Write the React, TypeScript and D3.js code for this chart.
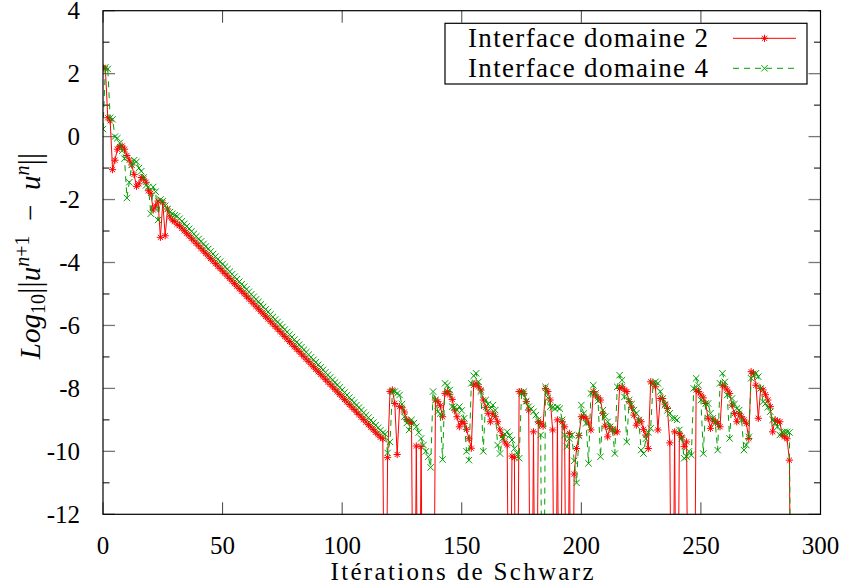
import React from 'react';
import * as d3 from 'd3';

const xTicks = [0, 50, 100, 150, 200, 250, 300];
const yTicks = [-12, -10, -8, -6, -4, -2, 0, 2, 4];
const yMinorTicks = [-11, -9, -7, -5, -3, -1, 1, 3];
const seriesNames = ['Interface domaine 2', 'Interface domaine 4'];
const xTitle = 'Itérations de Schwarz';

// Log10 ||u^{n+1}-u^n|| per Schwarz iteration (index = iteration), interface 2
const redValues = [
  2.2, 2.15, 0.6, 0.5, -1.05, -0.75, -0.4, -0.32, -0.3, -0.4,
  -0.6, -0.75, -0.9, -1.2, -1.58, -1.5, -1.3, -1.35, -1.45, -1.72,
  -1.8, -2.33, -2.2, -2.05, -3.2, -2.1, -3.15, -2.3, -2.55, -2.65,
  -2.7, -2.78, -2.83, -2.91, -2.99, -3.07, -3.15, -3.23, -3.31, -3.39,
  -3.47, -3.55, -3.63, -3.71, -3.79, -3.87, -3.95, -4.03, -4.11, -4.19,
  -4.27, -4.35, -4.43, -4.51, -4.59, -4.67, -4.75, -4.83, -4.91, -4.99,
  -5.07, -5.15, -5.23, -5.31, -5.39, -5.47, -5.55, -5.63, -5.71, -5.79,
  -5.87, -5.95, -6.03, -6.11, -6.19, -6.27, -6.35, -6.43, -6.51, -6.59,
  -6.67, -6.75, -6.83, -6.91, -6.99, -7.07, -7.15, -7.23, -7.31, -7.39,
  -7.47, -7.55, -7.63, -7.71, -7.79, -7.87, -7.95, -8.03, -8.11, -8.19,
  -8.27, -8.35, -8.43, -8.51, -8.59, -8.67, -8.75, -8.83, -8.91, -8.99,
  -9.07, -9.15, -9.23, -9.31, -9.39, -9.47, -9.55, -9.6, -20, -10.2,
  -8.1, -8.05, -8.48, -10.1, -8.58, -8.6, -8.75, -8.99, -9.05, -9.11,
  -20, -9.83, -20, -9.85, -20, -20, -20, -20, -20, -8.37,
  -8.42, -8.55, -8.9, -8.16, -8.1, -8.2, -8.35, -8.69, -8.9, -9.22,
  -9.05, -9.11, -9.3, -9.6, -9.9, -7.9, -7.84, -7.95, -8.05, -8.37,
  -8.6, -8.79, -9.06, -8.79, -8.9, -9.06, -9.32, -9.5, -9.7, -9.8,
  -20, -10.15, -10.2, -20, -8.1, -8.1, -8.16, -8.42, -8.69, -20,
  -9.38, -20, -9.06, -9.11, -9.2, -8.0, -8.1, -8.37, -9.32, -20,
  -9.0, -20, -9.06, -9.22, -20, -9.43, -20, -10.72, -9.91, -9.5,
  -8.9, -8.9, -8.95, -9.1, -9.32, -8.1, -8.21, -8.3, -8.37, -8.79,
  -9.2, -9.54, -9.22, -9.32, -9.38, -9.38, -8.0, -7.95, -8.05, -8.1,
  -8.42, -8.6, -8.85, -9.17, -9.0, -9.06, -9.3, -9.48, -9.91, -7.79,
  -7.85, -7.95, -9.32, -8.32, -8.32, -8.5, -8.64, -9.73, -20, -9.38,
  -20, -9.43, -9.55, -9.85, -9.7, -20, -20, -20, -8.05, -8.1,
  -8.21, -8.3, -8.48, -8.95, -9.27, -9.0, -9.05, -9.11, -9.22, -7.9,
  -7.95, -8.05, -8.16, -8.53, -8.8, -9.06, -8.79, -8.9, -9.0, -9.11,
  -9.59, -7.47, -7.52, -7.9, -8.95, -8.0, -8.05, -8.2, -8.37, -8.58,
  -9.38, -9.0, -9.05, -9.06, -9.48, -9.54, -9.6, -10.28, -20,
];

// interface 4
const greenValues = [
  0.24, 2.2, 2.15, 0.6, 0.55, 0.0, -0.05, -0.2, -0.45, -0.7,
  -1.95, -1.45, -0.9, -0.75, -0.8, -1.0, -1.1, -1.3, -1.55, -1.6,
  -2.45, -1.6, -1.75, -2.65, -2.0, -2.05, -2.2, -2.3, -2.4, -2.45,
  -2.5, -2.53, -2.61, -2.69, -2.77, -2.85, -2.93, -3.01, -3.09, -3.17,
  -3.25, -3.33, -3.41, -3.49, -3.57, -3.65, -3.73, -3.81, -3.89, -3.97,
  -4.05, -4.13, -4.21, -4.29, -4.37, -4.45, -4.53, -4.61, -4.69, -4.77,
  -4.85, -4.93, -5.01, -5.09, -5.17, -5.25, -5.33, -5.41, -5.49, -5.57,
  -5.65, -5.73, -5.81, -5.89, -5.97, -6.05, -6.13, -6.21, -6.29, -6.37,
  -6.45, -6.53, -6.61, -6.69, -6.77, -6.85, -6.93, -7.01, -7.09, -7.17,
  -7.25, -7.33, -7.41, -7.49, -7.57, -7.65, -7.73, -7.81, -7.89, -7.97,
  -8.05, -8.13, -8.21, -8.29, -8.37, -8.45, -8.53, -8.61, -8.69, -8.77,
  -8.85, -8.93, -9.01, -9.09, -9.17, -9.25, -9.33, -9.41, -9.45, -10.05,
  -9.7, -8.1, -8.1, -8.16, -8.21, -8.5, -8.9, -9.1, -9.32, -9.0,
  -9.1, -9.22, -9.4, -9.59, -9.8, -10.0, -10.17, -10.51, -8.1, -8.37,
  -8.74, -8.8, -10.26, -7.84, -7.9, -8.05, -8.58, -8.6, -8.69, -8.58,
  -8.7, -8.95, -10.0, -10.28, -7.84, -7.6, -7.52, -7.79, -8.1, -10.0,
  -8.37, -8.5, -8.64, -8.53, -8.69, -9.8, -10.07, -9.59, -9.45, -9.38,
  -9.5, -9.64, -9.91, -10.05, -10.22, -8.16, -8.1, -8.4, -8.58, -8.65,
  -8.74, -8.85, -9.0, -9.48, -20, -7.95, -8.3, -8.58, -8.6, -8.64,
  -8.6, -8.64, -9.0, -9.48, -9.85, -9.6, -9.48, -10.3, -11.0, -9.5,
  -8.53, -8.8, -9.11, -10.38, -8.16, -7.9, -8.16, -8.4, -10.17, -8.69,
  -8.9, -9.06, -9.22, -9.3, -10.07, -7.95, -7.58, -7.74, -8.27, -9.7,
  -8.37, -8.5, -8.69, -8.79, -9.0, -9.96, -10.07, -9.6, -9.4, -9.27,
  -7.84, -7.79, -7.84, -8.1, -8.32, -8.53, -8.7, -8.79, -8.95, -8.95,
  -9.0, -9.32, -9.59, -10.22, -10.17, -10.0, -10.12, -8.0, -7.68, -7.9,
  -8.37, -10.07, -8.48, -8.48, -8.79, -8.95, -9.1, -9.96, -7.84, -7.52,
  -7.79, -8.21, -9.59, -8.32, -8.5, -8.64, -8.69, -9.0, -9.96, -9.8,
  -9.54, -7.68, -7.58, -7.52, -7.63, -8.0, -8.42, -8.48, -8.6, -8.74,
  -9.0, -9.1, -9.22, -9.48, -9.4, -9.38, -9.38, -9.4, -20,
];

const W = 844;
const H = 585;
const PL = 103, PR = 820.5, PT = 10.7, PB = 514.3;
const FONT = "'Liberation Serif', 'Times New Roman', serif";
const RED = '#ff0000';
const GREEN = '#00a000';

const starPath = 'M-3.6,0H3.6M0,-3.6V3.6M-2.6,-2.6L2.6,2.6M-2.6,2.6L2.6,-2.6';
const crossPath = 'M-3.2,-3.2L3.2,3.2M-3.2,3.2L3.2,-3.2';

export default function App() {
  const x = d3.scaleLinear().domain([0, 300]).range([PL, PR]);
  const y = d3.scaleLinear().domain([-12, 4]).range([PB, PT]);
  const line = d3
    .line<number>()
    .x((_, i) => x(i))
    .y((d) => y(d));

  const series = [
    { name: seriesNames[0], values: redValues, color: RED, dash: undefined as string | undefined, marker: starPath },
    { name: seriesNames[1], values: greenValues, color: GREEN, dash: '6,5', marker: crossPath },
  ];

  const txt = { fontFamily: FONT } as React.CSSProperties;

  return (
    <svg
      width={W}
      height={H}
      style={{ position: 'absolute', left: 0, top: 0, background: '#fff', fontFamily: FONT }}
    >
      <rect x={0} y={0} width={W} height={H} fill="#fff" />
      <defs>
        <clipPath id="plotClip">
          <rect x={PL} y={PT} width={PR - PL} height={PB - PT} />
        </clipPath>
      </defs>

      {/* ticks */}
      <g stroke="#000" strokeWidth={1}>
        {xTicks.map((t) => (
          <g key={'xt' + t}>
            <line x1={x(t)} x2={x(t)} y1={PB} y2={PB - 12} stroke="#444" />
            <line x1={x(t)} x2={x(t)} y1={PT} y2={PT + 12} stroke="#444" />
          </g>
        ))}
        {yTicks.map((t) => (
          <g key={'yt' + t}>
            <line x1={PL} x2={PL + 12} y1={y(t)} y2={y(t)} stroke="#777" strokeWidth={1.3} />
            <line x1={PR} x2={PR - 12} y1={y(t)} y2={y(t)} stroke="#777" strokeWidth={1.3} />
          </g>
        ))}
        {yMinorTicks.map((t) => (
          <g key={'ym' + t}>
            <line x1={PL} x2={PL + 6.5} y1={y(t)} y2={y(t)} />
            <line x1={PR} x2={PR - 6.5} y1={y(t)} y2={y(t)} />
          </g>
        ))}
      </g>

      {/* tick labels */}
      <g fontSize={25} fill="#000">
        {xTicks.map((t) => (
          <text key={'xl' + t} x={x(t)} y={554} textAnchor="middle" style={txt}>
            {t}
          </text>
        ))}
        {yTicks.map((t) => (
          <text key={'yl' + t} x={80} y={y(t) + 8.5} textAnchor="end" style={txt}>
            {t}
          </text>
        ))}
      </g>

      {/* data */}
      <g clipPath="url(#plotClip)">
        {series.map((s) => (
          <g key={s.name}>
            <path
              d={line(s.values) || ''}
              fill="none"
              stroke={s.color}
              strokeWidth={1}
              strokeDasharray={s.dash}
            />
            {s.values.map((v, i) =>
              v >= -12.5 ? (
                <path
                  key={i}
                  d={s.marker}
                  transform={`translate(${x(i)},${y(v)})`}
                  stroke={s.color}
                  strokeWidth={1}
                  fill="none"
                />
              ) : null
            )}
          </g>
        ))}
      </g>

      {/* frame */}
      <rect x={PL} y={PT} width={PR - PL} height={PB - PT} fill="none" stroke="#000" strokeWidth={1.2} />

      {/* legend */}
      <rect x={445} y={23.3} width={362} height={60.7} fill="#fff" stroke="#000" strokeWidth={1.2} />
      {series.map((s, k) => {
        const cy = 38.3 + k * 30;
        return (
          <g key={'lg' + k}>
            <text
              x={708}
              y={cy + 9}
              fontSize={27}
              textAnchor="end"
              textLength={240}
              lengthAdjust="spacing"
              style={txt}
            >
              {s.name}
            </text>
            <line x1={733} x2={796} y1={cy} y2={cy} stroke={s.color} strokeWidth={1} strokeDasharray={s.dash} />
            <path d={s.marker} transform={`translate(${764.5},${cy})`} stroke={s.color} strokeWidth={1} fill="none" />
          </g>
        );
      })}

      {/* axis titles */}
      <text x={462} y={580} fontSize={25} textAnchor="middle" textLength={263} lengthAdjust="spacing" style={txt}>
        {xTitle}
      </text>
      <text transform="translate(40,256) rotate(-90)" fontSize={29} textAnchor="middle" style={txt}>
        <tspan fontStyle="italic">Log</tspan>
        <tspan fontSize={20} dy={5}>10</tspan>
        <tspan dy={-5} fontSize={32}>||</tspan>
        <tspan fontStyle="italic">u</tspan>
        <tspan fontSize={20} dy={-11} fontStyle="italic">n</tspan>
        <tspan fontSize={20}>+1</tspan>
        <tspan dy={11}>{'\u2002−\u2002'}</tspan>
        <tspan fontStyle="italic">u</tspan>
        <tspan fontSize={20} dy={-11} fontStyle="italic">n</tspan>
        <tspan dy={11} fontSize={32}>||</tspan>
      </text>
    </svg>
  );
}
